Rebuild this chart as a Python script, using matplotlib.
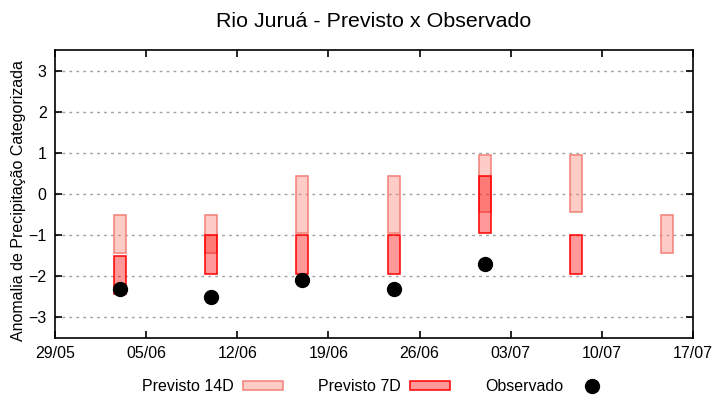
import datetime as dt
import matplotlib
matplotlib.use('Agg')
import matplotlib.pyplot as plt
import matplotlib.dates as mdates

plt.rcParams['font.family'] = ['Liberation Sans', 'DejaVu Sans']

# datas das previsoes (centro das caixas)
datas = ['03/06', '10/06', '17/06', '24/06', '01/07', '08/07', '15/07']
# previsto 14 dias: limites inferior / superior
p14_min = [-1.44, -1.44, -0.95, -0.95, -0.44, -0.44, -1.44]
p14_max = [-0.51, -0.51, 0.44, 0.44, 0.95, 0.95, -0.51]
# previsto 7 dias (None = sem previsao)
p7_min = [-2.43, -1.95, -1.95, -1.95, -0.95, -1.95, None]
p7_max = [-1.51, -1.0, -1.0, -1.0, 0.44, -1.0, None]
# observado
obs = [-2.31, -2.51, -2.10, -2.32, -1.71, None, None]

ano = 2023
x = [dt.datetime.strptime(d + '/%d' % ano, '%d/%m/%Y') for d in datas]
xn = mdates.date2num(x)

fig = plt.figure(figsize=(7.2, 4.0), dpi=100)
ax = fig.add_axes([0.0764, 0.155, 0.8861, 0.7197])

# 14D
b14 = ax.bar(xn, [b - a for a, b in zip(p14_min, p14_max)], bottom=p14_min, width=0.92,
             facecolor=(250/255, 128/255, 114/255, 0.4), edgecolor='#f08078', linewidth=1.1,
             label='Previsto 14D', zorder=2)

# 7D
i7 = [i for i, v in enumerate(p7_min) if v is not None]
b7 = ax.bar([xn[i] for i in i7], [p7_max[i] - p7_min[i] for i in i7], bottom=[p7_min[i] for i in i7],
            width=0.92, facecolor=(1, 0, 0, 0.4), edgecolor='red', linewidth=1.1,
            label='Previsto 7D', zorder=3)

io = [i for i, v in enumerate(obs) if v is not None]
po, = ax.plot([xn[i] for i in io], [obs[i] for i in io], 'o', color='black', markersize=10,
              linestyle='none', label='Observado', zorder=4)

ax.set_xlim(mdates.date2num(dt.datetime(ano, 5, 29)), mdates.date2num(dt.datetime(ano, 7, 17)))
ax.set_ylim(-3.5, 3.5)
ax.set_yticks([-3, -2, -1, 0, 1, 2, 3])
ax.set_xticks([mdates.date2num(dt.datetime(ano, 5, 29)) + 7 * k for k in range(8)])
ax.xaxis.set_major_formatter(mdates.DateFormatter('%d/%m'))

ax.grid(axis='y', color='#a0a0a0', linestyle=(0, (2, 3)), linewidth=1)
ax.tick_params(direction='in', length=5, width=1.2, top=True, right=True, labelsize=11.5, pad=6)
for s in ax.spines.values():
    s.set_linewidth(1.2)

ax.set_ylabel('Anomalia de Precipitação Categorizada', fontsize=11.5)
ax.yaxis.set_label_coords(-0.045, 0.477)
ax.set_title('Rio Juruá - Previsto x Observado', fontsize=15.4, pad=17)

ax.legend(handles=[b14, b7, po], loc='center', bbox_to_anchor=(0.505, -0.17), ncol=3, frameon=False,
          markerfirst=False, fontsize=11.5, handlelength=2.5, handleheight=0.45,
          columnspacing=2.2, handletextpad=0.56)

fig.savefig('out.png', dpi=100)
